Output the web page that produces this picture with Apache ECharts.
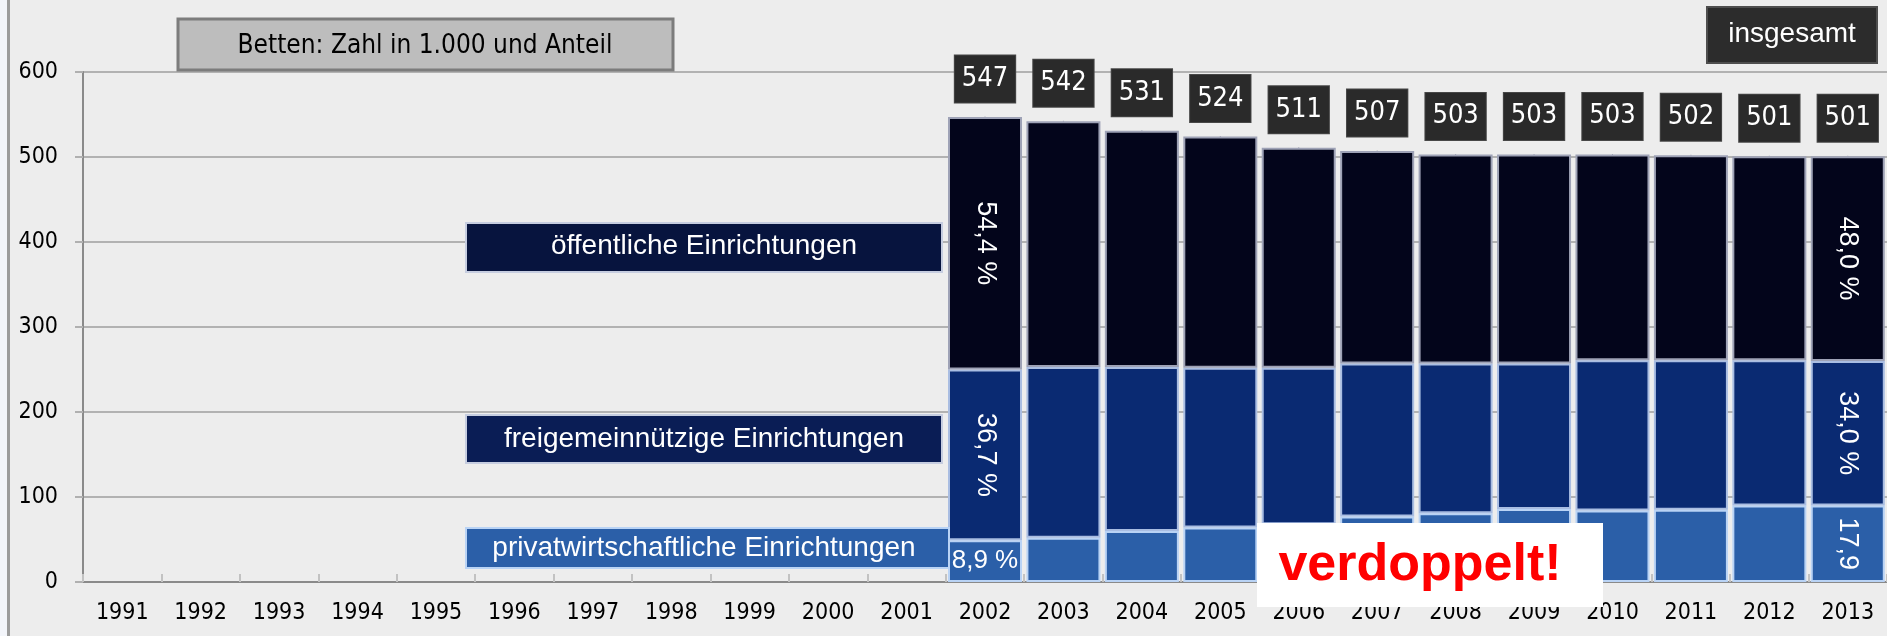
<!DOCTYPE html>
<html>
<head>
<meta charset="utf-8">
<script src="https://cdn.jsdelivr.net/npm/echarts@6/dist/echarts.min.js"></script>
<style>
html,body{margin:0;padding:0;background:#ededed;}
#c{width:1887px;height:636px;}
</style>
</head>
<body>
<div id="c"></div>
<script>
// ---- data ----
const years = ['1991','1992','1993','1994','1995','1996','1997','1998','1999','2000','2001','2002','2003','2004','2005','2006','2007','2008','2009','2010','2011','2012','2013'];
const totals      = [null,null,null,null,null,null,null,null,null,null,null,547,542,531,524,511,507,503,503,503,502,501,501];
const privat      = [null,null,null,null,null,null,null,null,null,null,null, 49, 52, 60, 64, 68, 77, 81, 86, 84, 85, 90, 90];
const freigem     = [null,null,null,null,null,null,null,null,null,null,null,201,201,193,188,184,180,176,171,177,176,171,170];
const oeffentlich = [null,null,null,null,null,null,null,null,null,null,null,297,289,278,272,259,250,246,246,242,241,240,241];
const yTicks = [0,100,200,300,400,500,600];
const labelYears = ['2002','2013'];
const pctOeff  = ['54,4 %','48,0 %'];
const pctFrei  = ['36,7 %','34,0 %'];
const pctPriv  = ['8,9 %','17,9'];

const COND = '"DejaVu Sans Condensed","Liberation Sans Narrow",sans-serif';
const SANS = '"Liberation Sans",Arial,sans-serif';

function build(values, pcts, horizontalFirst){
  return values.map((v,i)=>{
    const k = labelYears.indexOf(years[i]);
    if (v === null) return null;
    if (k < 0) return v;
    const horiz = horizontalFirst && k === 0;
    return {
      value: v,
      label: {
        show: true,
        position: 'inside',
        formatter: pcts[k],
        rotate: horiz ? 0 : -90,
        color: '#ffffff',
        fontFamily: SANS,
        fontSize: horiz ? 26 : 27
      }
    };
  });
}

const chart = echarts.init(document.getElementById('c'), null, {renderer:'canvas'});
const option = {
  animation: false,
  backgroundColor: '#ededed',
  grid: {left: 83, top: 72, width: 1806, height: 510, containLabel: false},
  xAxis: {
    type: 'category',
    data: years,
    boundaryGap: true,
    axisLine: {show: true, lineStyle: {color: '#8a8a8a', width: 2}},
    axisTick: {show: true, inside: true, length: 8, lineStyle: {color: '#c2c2c2', width: 2}},
    axisLabel: {color: '#000', fontFamily: COND, fontSize: 23, lineHeight: 23, margin: 20, interval: 0},
    splitLine: {show: false}
  },
  yAxis: {
    type: 'value',
    min: yTicks[0],
    max: yTicks[yTicks.length-1],
    interval: 100,
    axisLine: {show: true, lineStyle: {color: '#8a8a8a', width: 2}},
    axisTick: {show: true, length: 8, lineStyle: {color: '#b0b0b0', width: 2}},
    axisLabel: {color: '#000', fontFamily: COND, fontSize: 23, margin: 25},
    splitLine: {show: true, lineStyle: {color: '#b2b2b2', width: 2}}
  },
  series: [
    {
      name: 'privatwirtschaftliche Einrichtungen', type: 'bar', stack: 'b',
      barWidth: 74,
      itemStyle: {color: '#2b5fa8', borderColor: '#b9d3f5', borderWidth: 2},
      data: build(privat, pctPriv, true)
    },
    {
      name: 'freigemeinnützige Einrichtungen', type: 'bar', stack: 'b',
      barWidth: 74,
      itemStyle: {color: '#0a2a72', borderColor: '#a9bde2', borderWidth: 2},
      data: build(freigem, pctFrei, false)
    },
    {
      name: 'öffentliche Einrichtungen', type: 'bar', stack: 'b',
      barWidth: 74,
      itemStyle: {color: '#03051b', borderColor: '#9ea2b6', borderWidth: 2},
      data: build(oeffentlich, pctOeff, false)
    },
    {
      name: 'insgesamt', type: 'scatter', z: 5,
      symbol: 'rect', symbolSize: [1, 1],
      itemStyle: {color: '#9ea2b6', opacity: 1},
      emphasis: {disabled: true},
      label: {
        show: true, position: 'top', distance: 14, opacity: 1,
        formatter: p => p.value,
        color: '#ffffff', fontFamily: COND, fontSize: 27, lineHeight: 33,
        backgroundColor: '#2a2a2a', borderColor: '#474747', borderWidth: 1,
        padding: [7, 7, 7, 7]
      },
      data: totals
    }
  ],
  graphic: [
    {type:'rect', z:50, shape:{x:0,y:0,width:7,height:636}, style:{fill:'#f3f5fa'}},
    {type:'rect', z:50, shape:{x:7,y:0,width:3,height:636}, style:{fill:'#9c9c9c'}},
    // title box
    {type:'rect', z:50, shape:{x:178,y:19,width:495,height:51}, style:{fill:'#bdbdbd', stroke:'#7c7c7c', lineWidth:3}},
    {type:'text', z:51, style:{text:'Betten: Zahl in 1.000 und Anteil', x:425, y:46, fill:'#000', font:'26px '+COND, textAlign:'center', textVerticalAlign:'middle'}},
    // insgesamt box
    {type:'rect', z:50, shape:{x:1707,y:7,width:170,height:56}, style:{fill:'#2c2c2c', stroke:'#4e4e4e', lineWidth:2}},
    {type:'text', z:51, style:{text:'insgesamt', x:1792, y:34, fill:'#fff', font:'28px '+SANS, textAlign:'center', textVerticalAlign:'middle'}},
    // legend boxes
    {type:'rect', z:50, shape:{x:466,y:223,width:476,height:49}, style:{fill:'#07143e', stroke:'#c6cde0', lineWidth:2}},
    {type:'text', z:51, style:{text:'öffentliche Einrichtungen', x:704, y:246, fill:'#fff', font:'28px '+SANS, textAlign:'center', textVerticalAlign:'middle'}},
    {type:'rect', z:50, shape:{x:466,y:415,width:476,height:48}, style:{fill:'#0a1d55', stroke:'#c6cde0', lineWidth:2}},
    {type:'text', z:51, style:{text:'freigemeinnützige Einrichtungen', x:704, y:439, fill:'#fff', font:'28px '+SANS, textAlign:'center', textVerticalAlign:'middle'}},
    {type:'rect', z:50, shape:{x:466,y:528,width:483,height:40}, style:{fill:'#2b5fa8', stroke:'#b9d3f5', lineWidth:2}},
    {type:'text', z:51, style:{text:'privatwirtschaftliche Einrichtungen', x:704, y:548, fill:'#fff', font:'28px '+SANS, textAlign:'center', textVerticalAlign:'middle'}},
    // verdoppelt
    {type:'rect', z:60, shape:{x:1257,y:523,width:346,height:84}, style:{fill:'#ffffff'}},
    {type:'text', z:61, style:{text:'verdoppelt!', x:1420, y:566, fill:'#ff0000', font:'bold 52px '+SANS, textAlign:'center', textVerticalAlign:'middle'}}
  ]
};
chart.setOption(option);
</script>
</body>
</html>
